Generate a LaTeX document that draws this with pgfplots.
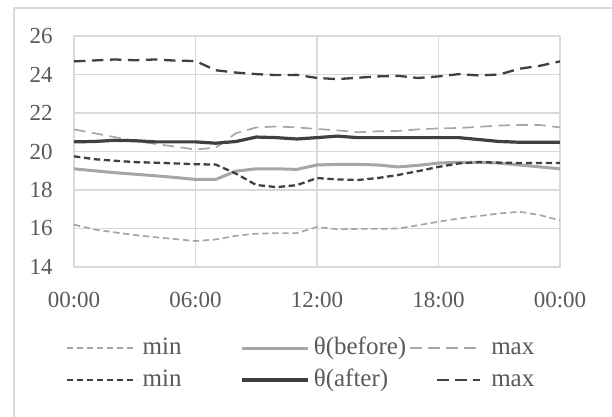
\documentclass[border=0pt]{standalone}
\usepackage{fontspec}
\setmainfont{Liberation Serif}
\usepackage{pgfplots}
\usepackage{pgfplotstable}
\pgfplotsset{compat=1.18}
\definecolor{lg}{HTML}{A6A6A6}
\definecolor{dg}{HTML}{404040}
\definecolor{gridc}{HTML}{D9D9D9}
\definecolor{txt}{HTML}{595959}

\pgfplotsset{
  legA/.style={legend image code/.code={\draw[##1] (0pt,0pt) -- (35pt,0pt);}},
  legB/.style={legend image code/.code={\draw[##1] (0pt,0pt) -- (33pt,0pt);}},
  legC/.style={legend image code/.code={\draw[##1] (13.5pt,0pt) -- (35pt,0pt);}},
}

\pgfplotstableread{
h  bmin  bth   bmax  amin  ath   amax
0  16.20 19.10 21.15 19.75 20.50 24.68
1  15.95 19.00 20.95 19.60 20.52 24.73
2  15.80 18.90 20.75 19.52 20.58 24.78
3  15.66 18.82 20.55 19.45 20.56 24.74
4  15.55 18.74 20.40 19.42 20.50 24.78
5  15.45 18.65 20.25 19.38 20.50 24.72
6  15.35 18.55 20.10 19.34 20.50 24.70
7  15.43 18.55 20.20 19.32 20.43 24.22
8  15.62 18.98 20.95 18.85 20.52 24.10
9  15.73 19.10 21.25 18.26 20.75 24.02
10 15.76 19.10 21.30 18.15 20.72 23.97
11 15.76 19.07 21.25 18.25 20.65 23.98
12 16.08 19.30 21.17 18.62 20.72 23.82
13 15.96 19.33 21.10 18.55 20.80 23.76
14 15.98 19.33 21.00 18.52 20.72 23.83
15 15.98 19.30 21.05 18.62 20.72 23.90
16 16.00 19.20 21.07 18.78 20.72 23.93
17 16.17 19.28 21.15 18.98 20.72 23.82
18 16.35 19.40 21.20 19.20 20.72 23.90
19 16.52 19.44 21.22 19.38 20.72 24.02
20 16.65 19.44 21.28 19.45 20.62 23.95
21 16.78 19.40 21.35 19.42 20.52 24.00
22 16.87 19.30 21.38 19.40 20.48 24.30
23 16.70 19.20 21.38 19.40 20.48 24.45
24 16.42 19.10 21.25 19.40 20.48 24.68
}\datatable

\begin{document}
\begin{tikzpicture}
\path[use as bounding box] (0pt,0pt) rectangle (306pt,208.5pt);
\draw[gridc, line width=0.75pt] (7pt,0pt) -- (7pt,204.5pt) -- (306pt,204.5pt);
\begin{axis}[
  at={(37pt,75pt)}, anchor=south west,
  scale only axis, width=243pt, height=115.5pt,
  xmin=0, xmax=24, ymin=14, ymax=26,
  xtick={0,6,12,18,24},
  xticklabels={00:00,06:00,12:00,18:00,00:00},
  ytick={14,16,...,26},
  grid=major,
  major grid style={gridc, line width=0.6pt},
  axis line style={gridc, line width=0.6pt},
  major tick length=0pt,
  tick label style={font=\fontsize{11.5}{13}\selectfont, text=txt},
  /pgf/number format/assume math mode=true,
  yticklabel style={anchor=east, inner sep=0pt, xshift=-10.5pt},
  xticklabel style={anchor=base, inner sep=0pt, yshift=-20.5pt},
  legend columns=3,
  legend cell align=left,
  legend style={at={(-0.0185,-0.42)}, anchor=west, draw=none, fill=none,
    inner sep=0pt, font=\fontsize{12.5}{14}\selectfont, text=txt,
    row sep=5pt, column sep=0pt,
    nodes={inner sep=0pt, text height=8.5pt, text depth=2.5pt}},
  line join=round,
]
\addplot[lg, line width=0.85pt, dash pattern=on 3.2pt off 1.8pt, legA]
  table[x=h,y=bmin]{\datatable};
\addlegendentry{\hspace*{2.5pt}min\hspace*{29.5pt}}
\addplot[lg, line width=1.5pt, legB]
  table[x=h,y=bth]{\datatable};
\addlegendentry{\hspace*{2pt}θ(before)\hspace*{1.5pt}}
\addplot[lg, line width=0.85pt, dash pattern=on 5.75pt off 3.25pt, legA]
  table[x=h,y=bmax]{\datatable};
\addlegendentry{\hspace*{5pt}max}
\addplot[dg, line width=1.15pt, dash pattern=on 3.2pt off 1.8pt, legA]
  table[x=h,y=amin]{\datatable};
\addlegendentry{\hspace*{2.5pt}min\hspace*{29.5pt}}
\addplot[dg, line width=1.6pt, legB]
  table[x=h,y=ath]{\datatable};
\addlegendentry{\hspace*{2pt}θ(after)}
\addplot[dg, line width=1.15pt, dash pattern=on 5.75pt off 3.25pt, legC]
  table[x=h,y=amax]{\datatable};
\addlegendentry{\hspace*{5pt}max}
\end{axis}
\end{tikzpicture}
\end{document}
